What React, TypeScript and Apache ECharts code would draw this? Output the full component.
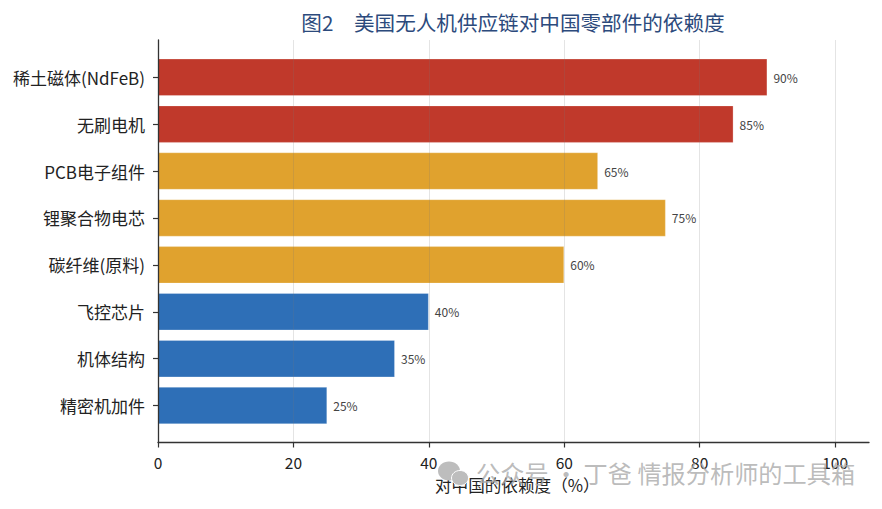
import React, { useEffect, useRef } from "react";
import * as echarts from "echarts";

const categories = ["稀土磁体(NdFeB)", "无刷电机", "PCB电子组件", "锂聚合物电芯", "碳纤维(原料)", "飞控芯片", "机体结构", "精密机加件"];
const values = [90, 85, 65, 75, 60, 40, 35, 25];
const barColors = ["#C0392B", "#C0392B", "#E0A22E", "#E0A22E", "#E0A22E", "#2E6FB7", "#2E6FB7", "#2E6FB7"];
const xTicks = [0, 20, 40, 60, 80, 100];
const titleText = "图2　美国无人机供应链对中国零部件的依赖度";
const xName = "对中国的依赖度（%）";
const watermark = "公众号 · 丁爸 情报分析师的工具箱";

const FONT = '"Noto Sans CJK SC", "DejaVu Sans", sans-serif';
const INK = "#222222";

export default function App() {
  const ref = useRef<HTMLDivElement>(null);
  useEffect(() => {
    document.body.style.margin = "0";
    const chart = echarts.init(ref.current!, null, { renderer: "svg" });
    chart.setOption({
      animation: false,
      backgroundColor: "#ffffff",
      textStyle: { fontFamily: FONT },
      title: {
        text: titleText,
        left: 508,
        top: 7,
        textAlign: "center",
        textStyle: { color: "#2C4A7C", fontSize: 20.6, fontWeight: "normal", fontFamily: FONT },
      },
      grid: [
        { left: 158, right: 13, top: 53.8, height: 375.2 },
        { left: 158, right: 13, top: 40, height: 402.5 },
      ],
      xAxis: [
        { type: "value", gridIndex: 0, min: 0, max: 105, show: false },
        {
          type: "value",
          gridIndex: 1,
          min: 0,
          max: 105,
          z: 5,
          axisLine: { show: true, lineStyle: { color: "#333333", width: 1.3 } },
          axisTick: { show: true, length: 5, customValues: xTicks, lineStyle: { color: "#333333", width: 1.2 } },
          axisLabel: { customValues: xTicks, color: INK, fontSize: 15.5, margin: 12, fontFamily: FONT },
          splitLine: { show: true, lineStyle: { color: "rgba(120,120,120,0.2)", width: 1 } },
        },
      ],
      yAxis: [
        {
          type: "category",
          gridIndex: 0,
          inverse: true,
          data: categories,
          axisLine: { show: false },
          axisTick: { show: true, alignWithLabel: true, length: 5, lineStyle: { color: "#333333", width: 1.2 } },
          axisLabel: { color: INK, fontSize: 17, margin: 13, fontFamily: FONT },
        },
        {
          type: "value",
          gridIndex: 1,
          min: 0,
          max: 1,
          z: 5,
          axisLine: { show: true, lineStyle: { color: "#333333", width: 1.3 } },
          axisTick: { show: false },
          axisLabel: { show: false },
          splitLine: { show: false },
        },
      ],
      series: [
        {
          type: "bar",
          xAxisIndex: 0,
          yAxisIndex: 0,
          barWidth: "80%",
          data: values.map((v, i) => ({
            value: v,
            itemStyle: { color: barColors[i], borderColor: "rgba(255,255,255,0.25)", borderWidth: 1 },
          })),
          label: {
            show: true,
            position: "right",
            distance: 6,
            formatter: "{c}%",
            color: "#444444",
            fontSize: 12,
            fontFamily: FONT,
          },
        },
      ],
      graphic: [
        {
          type: "text",
          left: 435,
          top: 477,
          style: { text: xName, fill: INK, fontSize: 16.6, fontFamily: FONT },
        },
        { type: "ellipse", shape: { cx: 449, cy: 471, rx: 11, ry: 9.5 }, style: { fill: "#BDBDBD" }, z: 20 },
        { type: "ellipse", shape: { cx: 460, cy: 478, rx: 8.5, ry: 7.5 }, style: { fill: "#BDBDBD", stroke: "#ffffff", lineWidth: 1 }, z: 21 },
        {
          type: "text",
          left: 476,
          top: 460,
          z: 20,
          style: { text: watermark, fill: "rgba(170,170,170,0.8)", fontSize: 24.2, fontFamily: FONT },
        },
      ],
    });
    return () => chart.dispose();
  }, []);
  return <div ref={ref} style={{ width: 882, height: 509 }} />;
}
